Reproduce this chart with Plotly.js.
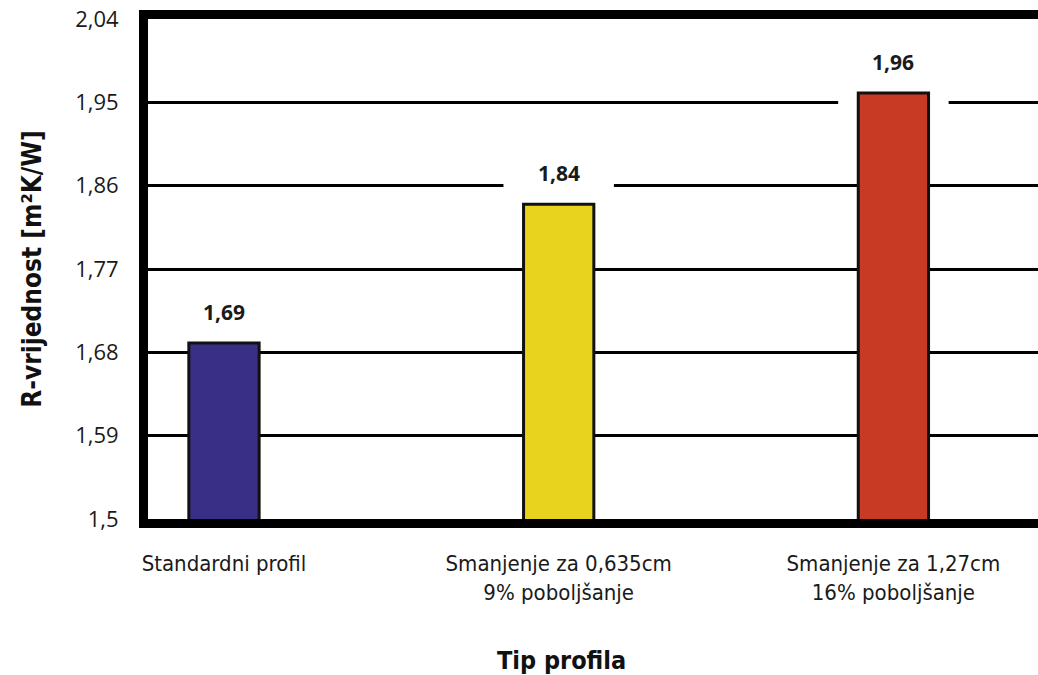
<!DOCTYPE html>
<html>
<head>
<meta charset="utf-8">
<script src="https://cdn.plot.ly/plotly-3.0.1.min.js"></script>
<style>html,body{margin:0;padding:0;background:#fff;}#chart{width:1038px;height:675px;}</style>
</head>
<body>
<div id="chart"></div>
<script>
// ---- data ----
const categories = ["Standardni profil", "Smanjenje za 0,635cm<br>9% poboljšanje", "Smanjenje za 1,27cm<br>16% poboljšanje"];
const values = [1.69, 1.84, 1.96];
const barColors = ["#3a2f87", "#e8d31f", "#c93a24"];
const yTickVals = [1.5, 1.59, 1.68, 1.77, 1.86, 1.95, 2.04];
const yTitle = "R-vrijednost [m²K/W]";
const xTitle = "Tip profila";

// ---- style ----
const narrow = "'DejaVu Sans Condensed', 'Liberation Sans Narrow', sans-serif";
const regular = "'Open Sans', 'Noto Sans', sans-serif";
const gapHalfWidth = 0.165;          // white gap in gridlines around label area (x units)
const gapBelow = [0, 0.03, 0.03];    // how far the gap reaches below the bar top
const gapAbove = 0.05;

const fmt = v => v.toFixed(2).replace('.', ',');

const trace = {
  type: 'bar',
  x: categories.map((c, i) => i),
  y: values,
  marker: {color: barColors, line: {color: '#111', width: 3}},
  width: 0.21,
  hoverinfo: 'skip'
};

const annotations = values.map((v, i) => ({
  x: i, y: v, xref: 'x', yref: 'y',
  text: '<b>' + fmt(v) + '</b>',
  showarrow: false, yanchor: 'bottom', yshift: 15,
  font: {family: regular, size: 21, color: '#1a1a1a'}
}));
annotations.push({
  x: 0.465, y: -0.282, xref: 'paper', yref: 'paper',
  text: xTitle, showarrow: false, xanchor: 'center', yanchor: 'middle',
  font: {family: narrow, size: 25, color: '#111', weight: 'bold'}
});

const shapes = values.map((v, i) => gapBelow[i] > 0 ? ({
  type: 'rect', layer: 'between', xref: 'x', yref: 'y',
  x0: i - gapHalfWidth, x1: i + gapHalfWidth,
  y0: v - gapBelow[i], y1: v + gapAbove,
  fillcolor: '#ffffff', line: {width: 0}
}) : null).filter(s => s);

const layout = {
  width: 1038, height: 675,
  margin: {l: 148, r: 0, t: 19, b: 156},
  paper_bgcolor: '#ffffff', plot_bgcolor: '#ffffff',
  separators: ',.',
  showlegend: false,
  bargap: 0,
  xaxis: {
    type: 'linear',
    range: [-0.227, 2.432],
    tickvals: categories.map((c, i) => i),
    ticktext: categories,
    showgrid: false, zeroline: false,
    showline: true, linecolor: '#000', linewidth: 9, mirror: true,
    ticks: '', ticklabelstandoff: 17,
    tickfont: {family: narrow, size: 22, color: '#1a1a1a'}
  },
  yaxis: {
    range: [1.5, 2.04],
    tickvals: yTickVals,
    showgrid: true, gridcolor: '#000', gridwidth: 3,
    zeroline: false,
    showline: true, linecolor: '#000', linewidth: 9,
    ticks: '', ticklabelstandoff: 16,
    tickfont: {family: regular, size: 22, color: '#1a1a1a'},
    title: {text: yTitle, font: {family: narrow, size: 26, color: '#111', weight: 'bold'}, standoff: 30}
  },
  annotations: annotations,
  shapes: shapes
};

Plotly.newPlot('chart', [trace], layout, {displayModeBar: false, staticPlot: true});
</script>
</body>
</html>
